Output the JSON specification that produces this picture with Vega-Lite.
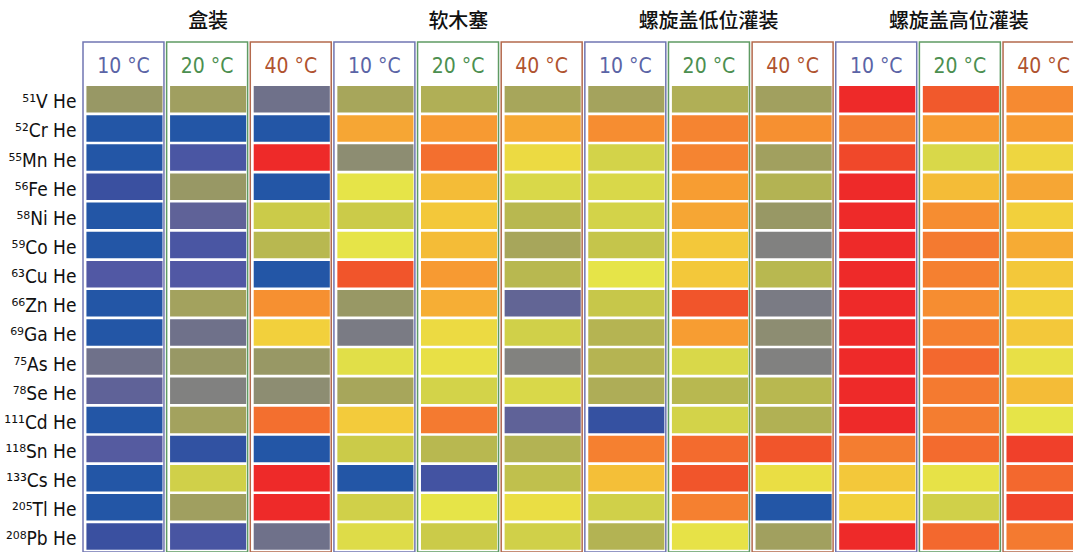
{
  "$schema": "https://vega.github.io/schema/vega-lite/v6.json",
  "autosize": "none",
  "padding": {"left": 83, "top": 42, "right": 0, "bottom": 0},
  "width": 990,
  "height": 510,
  "background": "white",
  "config": {"view": {"stroke": null}},
  "datasets": {
    "cols": [
      {"p": "盒装", "t": "10 °C"}, {"p": "盒装", "t": "20 °C"}, {"p": "盒装", "t": "40 °C"},
      {"p": "软木塞", "t": "10 °C"}, {"p": "软木塞", "t": "20 °C"}, {"p": "软木塞", "t": "40 °C"},
      {"p": "螺旋盖低位灌装", "t": "10 °C"}, {"p": "螺旋盖低位灌装", "t": "20 °C"}, {"p": "螺旋盖低位灌装", "t": "40 °C"},
      {"p": "螺旋盖高位灌装", "t": "10 °C"}, {"p": "螺旋盖高位灌装", "t": "20 °C"}, {"p": "螺旋盖高位灌装", "t": "40 °C"}
    ],
    "cells": [
      {"p":"盒装","t":"10 °C","e":"⁵¹V He","v":7},
      {"p":"盒装","t":"10 °C","e":"⁵²Cr He","v":0},
      {"p":"盒装","t":"10 °C","e":"⁵⁵Mn He","v":0},
      {"p":"盒装","t":"10 °C","e":"⁵⁶Fe He","v":1},
      {"p":"盒装","t":"10 °C","e":"⁵⁸Ni He","v":0},
      {"p":"盒装","t":"10 °C","e":"⁵⁹Co He","v":0},
      {"p":"盒装","t":"10 °C","e":"⁶³Cu He","v":2},
      {"p":"盒装","t":"10 °C","e":"⁶⁶Zn He","v":0},
      {"p":"盒装","t":"10 °C","e":"⁶⁹Ga He","v":0},
      {"p":"盒装","t":"10 °C","e":"⁷⁵As He","v":4},
      {"p":"盒装","t":"10 °C","e":"⁷⁸Se He","v":3},
      {"p":"盒装","t":"10 °C","e":"¹¹¹Cd He","v":0},
      {"p":"盒装","t":"10 °C","e":"¹¹⁸Sn He","v":2.3},
      {"p":"盒装","t":"10 °C","e":"¹³³Cs He","v":0},
      {"p":"盒装","t":"10 °C","e":"²⁰⁵Tl He","v":0},
      {"p":"盒装","t":"10 °C","e":"²⁰⁸Pb He","v":1},

      {"p":"盒装","t":"20 °C","e":"⁵¹V He","v":7.5},
      {"p":"盒装","t":"20 °C","e":"⁵²Cr He","v":0},
      {"p":"盒装","t":"20 °C","e":"⁵⁵Mn He","v":1.7},
      {"p":"盒装","t":"20 °C","e":"⁵⁶Fe He","v":7},
      {"p":"盒装","t":"20 °C","e":"⁵⁸Ni He","v":3},
      {"p":"盒装","t":"20 °C","e":"⁵⁹Co He","v":1.7},
      {"p":"盒装","t":"20 °C","e":"⁶³Cu He","v":2},
      {"p":"盒装","t":"20 °C","e":"⁶⁶Zn He","v":7.7},
      {"p":"盒装","t":"20 °C","e":"⁶⁹Ga He","v":4},
      {"p":"盒装","t":"20 °C","e":"⁷⁵As He","v":7},
      {"p":"盒装","t":"20 °C","e":"⁷⁸Se He","v":5},
      {"p":"盒装","t":"20 °C","e":"¹¹¹Cd He","v":7.7},
      {"p":"盒装","t":"20 °C","e":"¹¹⁸Sn He","v":0.6},
      {"p":"盒装","t":"20 °C","e":"¹³³Cs He","v":10.2},
      {"p":"盒装","t":"20 °C","e":"²⁰⁵Tl He","v":7.5},
      {"p":"盒装","t":"20 °C","e":"²⁰⁸Pb He","v":1.6},

      {"p":"盒装","t":"40 °C","e":"⁵¹V He","v":4},
      {"p":"盒装","t":"40 °C","e":"⁵²Cr He","v":0},
      {"p":"盒装","t":"40 °C","e":"⁵⁵Mn He","v":17},
      {"p":"盒装","t":"40 °C","e":"⁵⁶Fe He","v":0},
      {"p":"盒装","t":"40 °C","e":"⁵⁸Ni He","v":10},
      {"p":"盒装","t":"40 °C","e":"⁵⁹Co He","v":9},
      {"p":"盒装","t":"40 °C","e":"⁶³Cu He","v":0},
      {"p":"盒装","t":"40 °C","e":"⁶⁶Zn He","v":14.3},
      {"p":"盒装","t":"40 °C","e":"⁶⁹Ga He","v":12},
      {"p":"盒装","t":"40 °C","e":"⁷⁵As He","v":7},
      {"p":"盒装","t":"40 °C","e":"⁷⁸Se He","v":6},
      {"p":"盒装","t":"40 °C","e":"¹¹¹Cd He","v":15.3},
      {"p":"盒装","t":"40 °C","e":"¹¹⁸Sn He","v":0},
      {"p":"盒装","t":"40 °C","e":"¹³³Cs He","v":17},
      {"p":"盒装","t":"40 °C","e":"²⁰⁵Tl He","v":17},
      {"p":"盒装","t":"40 °C","e":"²⁰⁸Pb He","v":4},

      {"p":"软木塞","t":"10 °C","e":"⁵¹V He","v":8},
      {"p":"软木塞","t":"10 °C","e":"⁵²Cr He","v":13.6},
      {"p":"软木塞","t":"10 °C","e":"⁵⁵Mn He","v":6},
      {"p":"软木塞","t":"10 °C","e":"⁵⁶Fe He","v":11},
      {"p":"软木塞","t":"10 °C","e":"⁵⁸Ni He","v":10},
      {"p":"软木塞","t":"10 °C","e":"⁵⁹Co He","v":11},
      {"p":"软木塞","t":"10 °C","e":"⁶³Cu He","v":16},
      {"p":"软木塞","t":"10 °C","e":"⁶⁶Zn He","v":7},
      {"p":"软木塞","t":"10 °C","e":"⁶⁹Ga He","v":4.6},
      {"p":"软木塞","t":"10 °C","e":"⁷⁵As He","v":10.8},
      {"p":"软木塞","t":"10 °C","e":"⁷⁸Se He","v":8},
      {"p":"软木塞","t":"10 °C","e":"¹¹¹Cd He","v":12.2},
      {"p":"软木塞","t":"10 °C","e":"¹¹⁸Sn He","v":10},
      {"p":"软木塞","t":"10 °C","e":"¹³³Cs He","v":0},
      {"p":"软木塞","t":"10 °C","e":"²⁰⁵Tl He","v":10.2},
      {"p":"软木塞","t":"10 °C","e":"²⁰⁸Pb He","v":10.7},

      {"p":"软木塞","t":"20 °C","e":"⁵¹V He","v":8.5},
      {"p":"软木塞","t":"20 °C","e":"⁵²Cr He","v":14},
      {"p":"软木塞","t":"20 °C","e":"⁵⁵Mn He","v":15.3},
      {"p":"软木塞","t":"20 °C","e":"⁵⁶Fe He","v":12.8},
      {"p":"软木塞","t":"20 °C","e":"⁵⁸Ni He","v":12.3},
      {"p":"软木塞","t":"20 °C","e":"⁵⁹Co He","v":12.8},
      {"p":"软木塞","t":"20 °C","e":"⁶³Cu He","v":14},
      {"p":"软木塞","t":"20 °C","e":"⁶⁶Zn He","v":13.3},
      {"p":"软木塞","t":"20 °C","e":"⁶⁹Ga He","v":11.5},
      {"p":"软木塞","t":"20 °C","e":"⁷⁵As He","v":11.2},
      {"p":"软木塞","t":"20 °C","e":"⁷⁸Se He","v":10.3},
      {"p":"软木塞","t":"20 °C","e":"¹¹¹Cd He","v":15},
      {"p":"软木塞","t":"20 °C","e":"¹¹⁸Sn He","v":9},
      {"p":"软木塞","t":"20 °C","e":"¹³³Cs He","v":1.4},
      {"p":"软木塞","t":"20 °C","e":"²⁰⁵Tl He","v":11},
      {"p":"软木塞","t":"20 °C","e":"²⁰⁸Pb He","v":10},

      {"p":"软木塞","t":"40 °C","e":"⁵¹V He","v":8},
      {"p":"软木塞","t":"40 °C","e":"⁵²Cr He","v":13.5},
      {"p":"软木塞","t":"40 °C","e":"⁵⁵Mn He","v":11.5},
      {"p":"软木塞","t":"40 °C","e":"⁵⁶Fe He","v":10.5},
      {"p":"软木塞","t":"40 °C","e":"⁵⁸Ni He","v":9},
      {"p":"软木塞","t":"40 °C","e":"⁵⁹Co He","v":8},
      {"p":"软木塞","t":"40 °C","e":"⁶³Cu He","v":9},
      {"p":"软木塞","t":"40 °C","e":"⁶⁶Zn He","v":3.2},
      {"p":"软木塞","t":"40 °C","e":"⁶⁹Ga He","v":10.2},
      {"p":"软木塞","t":"40 °C","e":"⁷⁵As He","v":5.1},
      {"p":"软木塞","t":"40 °C","e":"⁷⁸Se He","v":10.5},
      {"p":"软木塞","t":"40 °C","e":"¹¹¹Cd He","v":3},
      {"p":"软木塞","t":"40 °C","e":"¹¹⁸Sn He","v":8.7},
      {"p":"软木塞","t":"40 °C","e":"¹³³Cs He","v":9.4},
      {"p":"软木塞","t":"40 °C","e":"²⁰⁵Tl He","v":11.3},
      {"p":"软木塞","t":"40 °C","e":"²⁰⁸Pb He","v":10.2},

      {"p":"螺旋盖低位灌装","t":"10 °C","e":"⁵¹V He","v":7.8},
      {"p":"螺旋盖低位灌装","t":"10 °C","e":"⁵²Cr He","v":14.4},
      {"p":"螺旋盖低位灌装","t":"10 °C","e":"⁵⁵Mn He","v":10.3},
      {"p":"螺旋盖低位灌装","t":"10 °C","e":"⁵⁶Fe He","v":10.5},
      {"p":"螺旋盖低位灌装","t":"10 °C","e":"⁵⁸Ni He","v":10.3},
      {"p":"螺旋盖低位灌装","t":"10 °C","e":"⁵⁹Co He","v":9.7},
      {"p":"螺旋盖低位灌装","t":"10 °C","e":"⁶³Cu He","v":11},
      {"p":"螺旋盖低位灌装","t":"10 °C","e":"⁶⁶Zn He","v":9.8},
      {"p":"螺旋盖低位灌装","t":"10 °C","e":"⁶⁹Ga He","v":8.8},
      {"p":"螺旋盖低位灌装","t":"10 °C","e":"⁷⁵As He","v":8.8},
      {"p":"螺旋盖低位灌装","t":"10 °C","e":"⁷⁸Se He","v":8.4},
      {"p":"螺旋盖低位灌装","t":"10 °C","e":"¹¹¹Cd He","v":0.8},
      {"p":"螺旋盖低位灌装","t":"10 °C","e":"¹¹⁸Sn He","v":14.8},
      {"p":"螺旋盖低位灌装","t":"10 °C","e":"¹³³Cs He","v":12.7},
      {"p":"螺旋盖低位灌装","t":"10 °C","e":"²⁰⁵Tl He","v":10.2},
      {"p":"螺旋盖低位灌装","t":"10 °C","e":"²⁰⁸Pb He","v":8.7},

      {"p":"螺旋盖低位灌装","t":"20 °C","e":"⁵¹V He","v":8.5},
      {"p":"螺旋盖低位灌装","t":"20 °C","e":"⁵²Cr He","v":14.7},
      {"p":"螺旋盖低位灌装","t":"20 °C","e":"⁵⁵Mn He","v":14.7},
      {"p":"螺旋盖低位灌装","t":"20 °C","e":"⁵⁶Fe He","v":13.9},
      {"p":"螺旋盖低位灌装","t":"20 °C","e":"⁵⁸Ni He","v":13.6},
      {"p":"螺旋盖低位灌装","t":"20 °C","e":"⁵⁹Co He","v":12.3},
      {"p":"螺旋盖低位灌装","t":"20 °C","e":"⁶³Cu He","v":12.3},
      {"p":"螺旋盖低位灌装","t":"20 °C","e":"⁶⁶Zn He","v":16},
      {"p":"螺旋盖低位灌装","t":"20 °C","e":"⁶⁹Ga He","v":13.9},
      {"p":"螺旋盖低位灌装","t":"20 °C","e":"⁷⁵As He","v":10.5},
      {"p":"螺旋盖低位灌装","t":"20 °C","e":"⁷⁸Se He","v":9},
      {"p":"螺旋盖低位灌装","t":"20 °C","e":"¹¹¹Cd He","v":10.3},
      {"p":"螺旋盖低位灌装","t":"20 °C","e":"¹¹⁸Sn He","v":15.4},
      {"p":"螺旋盖低位灌装","t":"20 °C","e":"¹³³Cs He","v":16},
      {"p":"螺旋盖低位灌装","t":"20 °C","e":"²⁰⁵Tl He","v":14.8},
      {"p":"螺旋盖低位灌装","t":"20 °C","e":"²⁰⁸Pb He","v":11.1},

      {"p":"螺旋盖低位灌装","t":"40 °C","e":"⁵¹V He","v":7.6},
      {"p":"螺旋盖低位灌装","t":"40 °C","e":"⁵²Cr He","v":14.3},
      {"p":"螺旋盖低位灌装","t":"40 °C","e":"⁵⁵Mn He","v":7.6},
      {"p":"螺旋盖低位灌装","t":"40 °C","e":"⁵⁶Fe He","v":8.7},
      {"p":"螺旋盖低位灌装","t":"40 °C","e":"⁵⁸Ni He","v":7},
      {"p":"螺旋盖低位灌装","t":"40 °C","e":"⁵⁹Co He","v":5},
      {"p":"螺旋盖低位灌装","t":"40 °C","e":"⁶³Cu He","v":9},
      {"p":"螺旋盖低位灌装","t":"40 °C","e":"⁶⁶Zn He","v":4.6},
      {"p":"螺旋盖低位灌装","t":"40 °C","e":"⁶⁹Ga He","v":6},
      {"p":"螺旋盖低位灌装","t":"40 °C","e":"⁷⁵As He","v":5},
      {"p":"螺旋盖低位灌装","t":"40 °C","e":"⁷⁸Se He","v":9},
      {"p":"螺旋盖低位灌装","t":"40 °C","e":"¹¹¹Cd He","v":8.6},
      {"p":"螺旋盖低位灌装","t":"40 °C","e":"¹¹⁸Sn He","v":16},
      {"p":"螺旋盖低位灌装","t":"40 °C","e":"¹³³Cs He","v":11.3},
      {"p":"螺旋盖低位灌装","t":"40 °C","e":"²⁰⁵Tl He","v":0},
      {"p":"螺旋盖低位灌装","t":"40 °C","e":"²⁰⁸Pb He","v":7.6},

      {"p":"螺旋盖高位灌装","t":"10 °C","e":"⁵¹V He","v":17},
      {"p":"螺旋盖高位灌装","t":"10 °C","e":"⁵²Cr He","v":14.9},
      {"p":"螺旋盖高位灌装","t":"10 °C","e":"⁵⁵Mn He","v":16.3},
      {"p":"螺旋盖高位灌装","t":"10 °C","e":"⁵⁶Fe He","v":17},
      {"p":"螺旋盖高位灌装","t":"10 °C","e":"⁵⁸Ni He","v":17},
      {"p":"螺旋盖高位灌装","t":"10 °C","e":"⁵⁹Co He","v":17},
      {"p":"螺旋盖高位灌装","t":"10 °C","e":"⁶³Cu He","v":17},
      {"p":"螺旋盖高位灌装","t":"10 °C","e":"⁶⁶Zn He","v":17},
      {"p":"螺旋盖高位灌装","t":"10 °C","e":"⁶⁹Ga He","v":17},
      {"p":"螺旋盖高位灌装","t":"10 °C","e":"⁷⁵As He","v":17},
      {"p":"螺旋盖高位灌装","t":"10 °C","e":"⁷⁸Se He","v":17},
      {"p":"螺旋盖高位灌装","t":"10 °C","e":"¹¹¹Cd He","v":17},
      {"p":"螺旋盖高位灌装","t":"10 °C","e":"¹¹⁸Sn He","v":14.9},
      {"p":"螺旋盖高位灌装","t":"10 °C","e":"¹³³Cs He","v":12.3},
      {"p":"螺旋盖高位灌装","t":"10 °C","e":"²⁰⁵Tl He","v":12},
      {"p":"螺旋盖高位灌装","t":"10 °C","e":"²⁰⁸Pb He","v":17},

      {"p":"螺旋盖高位灌装","t":"20 °C","e":"⁵¹V He","v":15.9},
      {"p":"螺旋盖高位灌装","t":"20 °C","e":"⁵²Cr He","v":14},
      {"p":"螺旋盖高位灌装","t":"20 °C","e":"⁵⁵Mn He","v":10.5},
      {"p":"螺旋盖高位灌装","t":"20 °C","e":"⁵⁶Fe He","v":12.8},
      {"p":"螺旋盖高位灌装","t":"20 °C","e":"⁵⁸Ni He","v":14.4},
      {"p":"螺旋盖高位灌装","t":"20 °C","e":"⁵⁹Co He","v":15},
      {"p":"螺旋盖高位灌装","t":"20 °C","e":"⁶³Cu He","v":14.8},
      {"p":"螺旋盖高位灌装","t":"20 °C","e":"⁶⁶Zn He","v":14.4},
      {"p":"螺旋盖高位灌装","t":"20 °C","e":"⁶⁹Ga He","v":14.8},
      {"p":"螺旋盖高位灌装","t":"20 °C","e":"⁷⁵As He","v":15.5},
      {"p":"螺旋盖高位灌装","t":"20 °C","e":"⁷⁸Se He","v":15},
      {"p":"螺旋盖高位灌装","t":"20 °C","e":"¹¹¹Cd He","v":14.9},
      {"p":"螺旋盖高位灌装","t":"20 °C","e":"¹¹⁸Sn He","v":15.4},
      {"p":"螺旋盖高位灌装","t":"20 °C","e":"¹³³Cs He","v":11.1},
      {"p":"螺旋盖高位灌装","t":"20 °C","e":"²⁰⁵Tl He","v":10.2},
      {"p":"螺旋盖高位灌装","t":"20 °C","e":"²⁰⁸Pb He","v":15.5},

      {"p":"螺旋盖高位灌装","t":"40 °C","e":"⁵¹V He","v":14.5},
      {"p":"螺旋盖高位灌装","t":"40 °C","e":"⁵²Cr He","v":14},
      {"p":"螺旋盖高位灌装","t":"40 °C","e":"⁵⁵Mn He","v":11.7},
      {"p":"螺旋盖高位灌装","t":"40 °C","e":"⁵⁶Fe He","v":13.6},
      {"p":"螺旋盖高位灌装","t":"40 °C","e":"⁵⁸Ni He","v":12},
      {"p":"螺旋盖高位灌装","t":"40 °C","e":"⁵⁹Co He","v":13.4},
      {"p":"螺旋盖高位灌装","t":"40 °C","e":"⁶³Cu He","v":12.3},
      {"p":"螺旋盖高位灌装","t":"40 °C","e":"⁶⁶Zn He","v":12},
      {"p":"螺旋盖高位灌装","t":"40 °C","e":"⁶⁹Ga He","v":12.3},
      {"p":"螺旋盖高位灌装","t":"40 °C","e":"⁷⁵As He","v":11.2},
      {"p":"螺旋盖高位灌装","t":"40 °C","e":"⁷⁸Se He","v":12.8},
      {"p":"螺旋盖高位灌装","t":"40 °C","e":"¹¹¹Cd He","v":11},
      {"p":"螺旋盖高位灌装","t":"40 °C","e":"¹¹⁸Sn He","v":16.5},
      {"p":"螺旋盖高位灌装","t":"40 °C","e":"¹³³Cs He","v":15.5},
      {"p":"螺旋盖高位灌装","t":"40 °C","e":"²⁰⁵Tl He","v":16.4},
      {"p":"螺旋盖高位灌装","t":"40 °C","e":"²⁰⁸Pb He","v":15}
    ]
  },
  "layer": [
    {
      "layer": [
        {
          "data": {"name": "cols"},
          "transform": [{"calculate": "datum.p + '|' + datum.t", "as": "k"}],
          "mark": {"type": "rect", "fill": "white", "strokeWidth": 1.5, "y2Offset": 8},
          "encoding": {
            "x": {"field": "k", "type": "nominal", "axis": null},
            "stroke": {
              "field": "t", "type": "nominal", "legend": null,
              "scale": {"domain": ["10 °C", "20 °C", "40 °C"], "range": ["#7076B2", "#5F9B63", "#B4694C"]}
            }
          }
        },
        {
          "data": {"name": "cells"},
          "transform": [{"calculate": "datum.p + '|' + datum.t", "as": "k"}],
          "mark": {"type": "rect", "width": {"band": 0.94}, "xOffset": 1},
          "encoding": {
            "x": {
              "field": "k", "type": "nominal", "axis": null,
              "scale": {
                "domain": [
                  "盒装|10 °C", "盒装|20 °C", "盒装|40 °C",
                  "软木塞|10 °C", "软木塞|20 °C", "软木塞|40 °C",
                  "螺旋盖低位灌装|10 °C", "螺旋盖低位灌装|20 °C", "螺旋盖低位灌装|40 °C",
                  "螺旋盖高位灌装|10 °C", "螺旋盖高位灌装|20 °C", "螺旋盖高位灌装|40 °C"
                ],
                "range": [0, 1001], "paddingInner": 0.032, "paddingOuter": 0
              }
            },
            "y": {
              "field": "e", "type": "nominal",
              "scale": {
                "domain": ["⁵¹V He", "⁵²Cr He", "⁵⁵Mn He", "⁵⁶Fe He", "⁵⁸Ni He", "⁵⁹Co He", "⁶³Cu He", "⁶⁶Zn He", "⁶⁹Ga He", "⁷⁵As He", "⁷⁸Se He", "¹¹¹Cd He", "¹¹⁸Sn He", "¹³³Cs He", "²⁰⁵Tl He", "²⁰⁸Pb He"],
                "paddingInner": 0.091, "paddingOuter": 0.7933, "align": 0.951
              },
              "axis": {
                "title": null, "ticks": false, "domain": false,
                "labelFont": "DejaVu Sans Condensed", "labelFontSize": 19, "labelColor": "#111111",
                "labelPadding": 7, "labelBaseline": "alphabetic", "labelOffset": 9
              }
            },
            "fill": {
              "field": "v", "type": "quantitative", "legend": null,
              "scale": {
                "domain": [0, 1, 2, 3, 4, 5, 6, 7, 8, 9, 10, 11, 12, 13, 14, 15, 16, 17],
                "range": ["#2356A6", "#3A50A0", "#5158A4", "#5F6298", "#6F718A", "#818180", "#8D8D72", "#989865", "#A7A65B", "#B8B850", "#CBCB49", "#E6E448", "#F2D03C", "#F5B736", "#F79A32", "#F47A30", "#F1552B", "#EE2A29"],
                "interpolate": "rgb"
              }
            }
          }
        }
      ]
    },
    {
      "data": {"name": "cols"},
      "transform": [{"calculate": "datum.p + '|' + datum.t", "as": "k"}],
      "mark": {"type": "rect", "opacity": 0},
      "encoding": {
        "x": {
          "field": "k", "type": "nominal",
          "scale": {
            "domain": [
              "盒装|10 °C", "盒装|20 °C", "盒装|40 °C",
              "软木塞|10 °C", "软木塞|20 °C", "软木塞|40 °C",
              "螺旋盖低位灌装|10 °C", "螺旋盖低位灌装|20 °C", "螺旋盖低位灌装|40 °C",
              "螺旋盖高位灌装|10 °C", "螺旋盖高位灌装|20 °C", "螺旋盖高位灌装|40 °C"
            ],
            "range": [0, 1001], "paddingInner": 0.032, "paddingOuter": 0
          },
          "axis": {
            "orient": "top", "title": null, "ticks": false, "domain": false, "zindex": 2,
            "offset": -24, "labelPadding": 0, "labelBaseline": "middle", "labelAngle": 0,
            "labelAlign": "center", "bandPosition": 0.5, "labelOverlap": false,
            "labelExpr": "indexof(datum.value, '40 °C') >= 0 ? '' : split(datum.value, '|')[1]",
            "labelFont": "DejaVu Sans Condensed", "labelFontSize": 21,
            "labelColor": {
              "condition": {"test": "indexof(datum.value, '10 °C') >= 0", "value": "#5B64A6"},
              "value": "#4C8F50"
            }
          }
        }
      }
    },
    {
      "data": {"name": "cols"},
      "transform": [{"calculate": "datum.p + '|' + datum.t", "as": "k"}],
      "mark": {"type": "rect", "opacity": 0},
      "encoding": {
        "x": {
          "field": "k", "type": "nominal",
          "scale": {
            "domain": [
              "盒装|10 °C", "盒装|20 °C", "盒装|40 °C",
              "软木塞|10 °C", "软木塞|20 °C", "软木塞|40 °C",
              "螺旋盖低位灌装|10 °C", "螺旋盖低位灌装|20 °C", "螺旋盖低位灌装|40 °C",
              "螺旋盖高位灌装|10 °C", "螺旋盖高位灌装|20 °C", "螺旋盖高位灌装|40 °C"
            ],
            "range": [0, 1001], "paddingInner": 0.032, "paddingOuter": 0
          },
          "axis": {
            "orient": "top", "title": null, "ticks": false, "domain": false, "zindex": 2,
            "offset": -24, "labelPadding": 0, "labelBaseline": "middle", "labelAngle": 0,
            "labelAlign": "center", "bandPosition": 0.5, "labelOverlap": false,
            "labelExpr": "indexof(datum.value, '40 °C') >= 0 ? split(datum.value, '|')[1] : ''",
            "labelFont": "DejaVu Sans Condensed", "labelFontSize": 21,
            "labelColor": "#B0532F"
          }
        }
      }
    },
    {
      "data": {"name": "cols"},
      "mark": {"type": "rect", "opacity": 0},
      "encoding": {
        "x": {
          "field": "p", "type": "nominal",
          "scale": {"domain": ["盒装", "软木塞", "螺旋盖低位灌装", "螺旋盖高位灌装"], "range": [0, 1001], "paddingInner": 0, "paddingOuter": 0},
          "axis": {
            "orient": "top", "title": null, "ticks": false, "domain": false,
            "offset": 21, "labelPadding": 0, "labelBaseline": "middle", "labelAngle": 0,
            "labelFont": "Noto Sans CJK SC", "labelFontSize": 20, "labelFontWeight": 500,
            "labelColor": "#111111"
          }
        }
      }
    }
  ],
  "resolve": {"scale": {"x": "independent"}, "axis": {"x": "independent"}}
}
